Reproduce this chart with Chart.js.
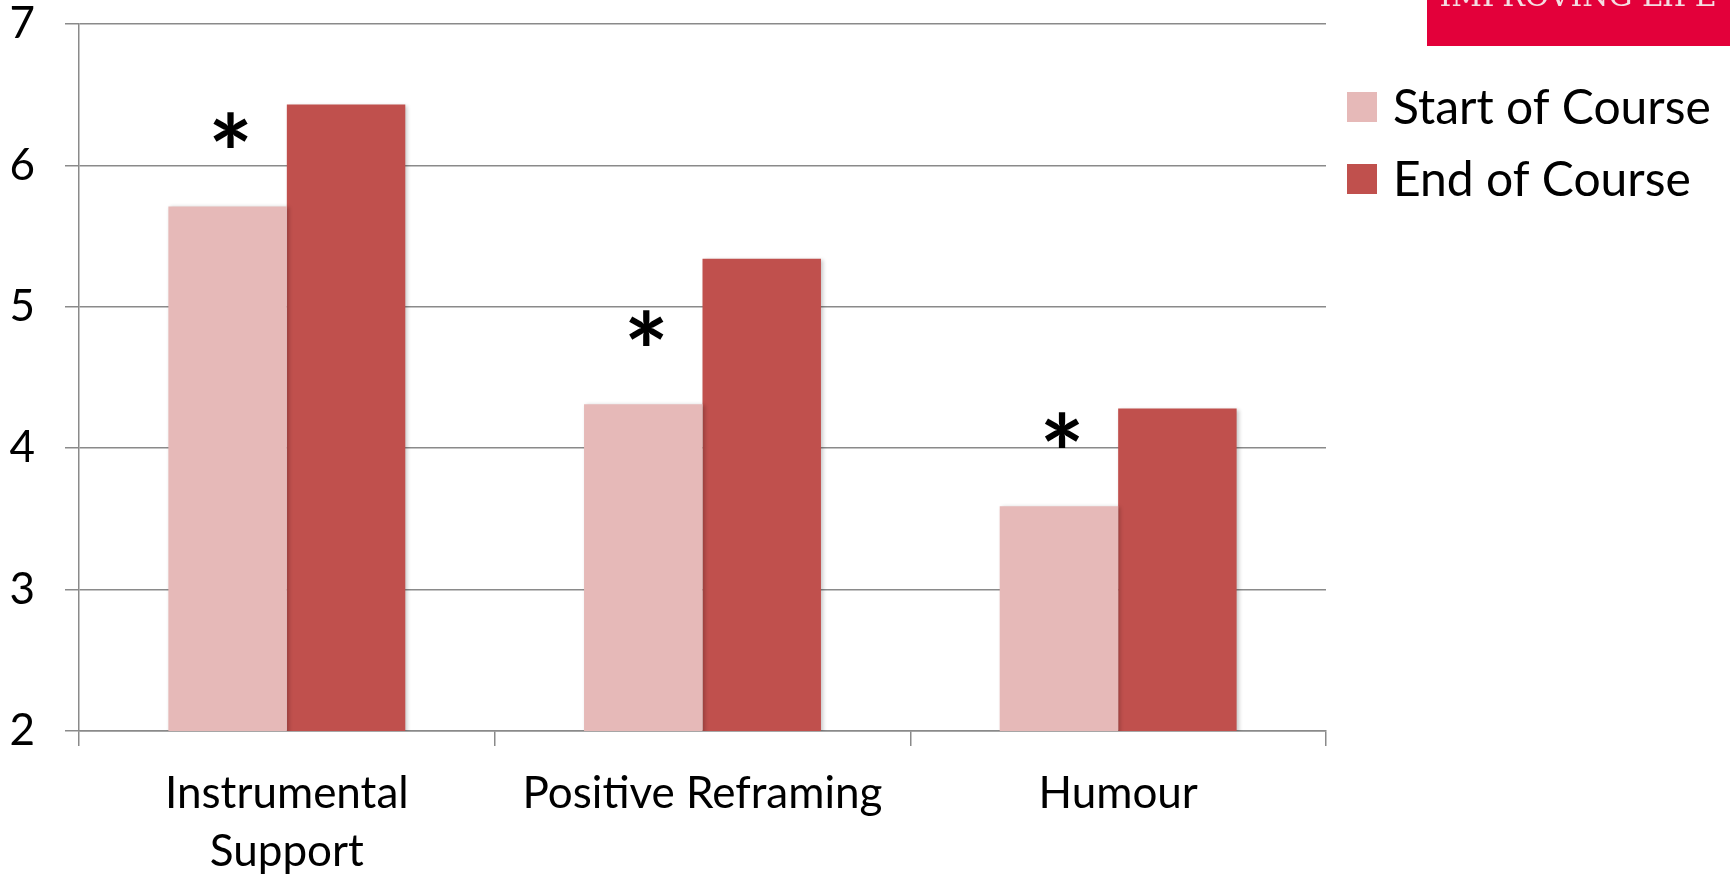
<!DOCTYPE html>
<html>
<head>
<meta charset="utf-8">
<script src="https://cdn.jsdelivr.net/npm/chart.js@4.4.1/dist/chart.umd.min.js"></script>
<style>
  html, body { margin: 0; padding: 0; background: #fff; }
  #wrap { width: 1730px; height: 876px; position: relative; }
</style>
</head>
<body>
<div id="wrap"><canvas id="chart"></canvas></div>
<script>
// chart data
const categories = [['Instrumental', 'Support'], 'Positive Reframing', 'Humour'];
const seriesNames = ['Start of Course', 'End of Course'];
const startValues = [5.71, 4.31, 3.59];
const endValues = [6.43, 5.34, 4.28];
const significant = ['*', '*', '*'];
const yTicks = [2, 3, 4, 5, 6, 7];

const FONT = 'Lato, "Open Sans", sans-serif';
const gridGrey = '#8a8a8a';

// logo strip top right, legend and significance marks
const extras = {
  id: 'extras',
  beforeDatasetsDraw(chart) {
    const ctx = chart.ctx;
    ctx.save();
    ctx.shadowColor = 'rgba(0,0,0,0.22)';
    ctx.shadowBlur = 4;
    ctx.shadowOffsetX = 2;
    ctx.shadowOffsetY = 1;
  },
  afterDatasetsDraw(chart) {
    chart.ctx.restore();
  },
  afterDraw(chart) {
    const ctx = chart.ctx;
    ctx.save();

    // logo
    ctx.fillStyle = '#e3003a';
    ctx.fillRect(1427, 0, 303, 46);
    ctx.fillStyle = '#f4dde2';
    ctx.font = '30px "DejaVu Serif", serif';
    ctx.textAlign = 'center';
    ctx.textBaseline = 'alphabetic';
    ctx.fillText('IMPROVING LIFE', 1578, 6);

    // legend
    ctx.textAlign = 'left';
    ctx.textBaseline = 'middle';
    ctx.font = '48px ' + FONT;
    chart.data.datasets.forEach((ds, i) => {
      const cy = 107 + i * 72;
      ctx.fillStyle = ds.backgroundColor;
      ctx.fillRect(1347, cy - 15, 30, 30);
      ctx.fillStyle = '#000';
      ctx.fillText(ds.label, 1393, cy + 2);
    });

    // significance asterisks above the start bars
    const meta = chart.getDatasetMeta(0);
    ctx.font = 'bold 106px ' + FONT;
    ctx.textAlign = 'center';
    ctx.textBaseline = 'alphabetic';
    meta.data.forEach((bar, i) => {
      if (!significant[i]) return;
      const m = ctx.measureText(significant[i]);
      const cy = bar.y - 76;
      ctx.fillStyle = '#000';
      ctx.fillText(significant[i], bar.x + 3, cy + (m.actualBoundingBoxAscent - m.actualBoundingBoxDescent) / 2);
    });
    ctx.restore();
  }
};

new Chart(document.getElementById('chart'), {
  type: 'bar',
  data: {
    labels: categories,
    datasets: [
      { label: seriesNames[0], data: startValues, backgroundColor: '#e6b9b8' },
      { label: seriesNames[1], data: endValues, backgroundColor: '#c0504d' }
    ]
  },
  options: {
    responsive: true,
    maintainAspectRatio: false,
    animation: false,
    layout: { padding: { top: 24, right: 404, left: 0, bottom: 0 } },
    datasets: { bar: { categoryPercentage: 0.57, barPercentage: 1 } },
    plugins: {
      legend: { display: false },
      tooltip: { enabled: false }
    },
    scales: {
      x: {
        grid: {
          drawOnChartArea: false,
          drawTicks: true,
          tickLength: 15,
          color: gridGrey,
          lineWidth: 1.5
        },
        border: { color: gridGrey, width: 1.5 },
        ticks: {
          color: '#000',
          padding: 19,
          maxRotation: 0,
          font: { family: FONT, size: 44, lineHeight: 1.32 }
        },
        afterFit(scale) {
          scale.height = 145;
          scale.paddingLeft = 0;
          scale.paddingRight = 0;
        }
      },
      y: {
        min: 2,
        max: 7,
        afterBuildTicks(scale) { scale.ticks = yTicks.map(v => ({ value: v })); },
        grid: {
          color: gridGrey,
          lineWidth: 1.5,
          tickLength: 14
        },
        border: { color: gridGrey, width: 1.5 },
        ticks: {
          color: '#000',
          padding: 30,
          font: { family: FONT, size: 44 }
        },
        afterFit(scale) {
          scale.width = 79;
          scale.paddingTop = 0;
          scale.paddingBottom = 0;
        }
      }
    }
  },
  plugins: [extras]
});
</script>
</body>
</html>
